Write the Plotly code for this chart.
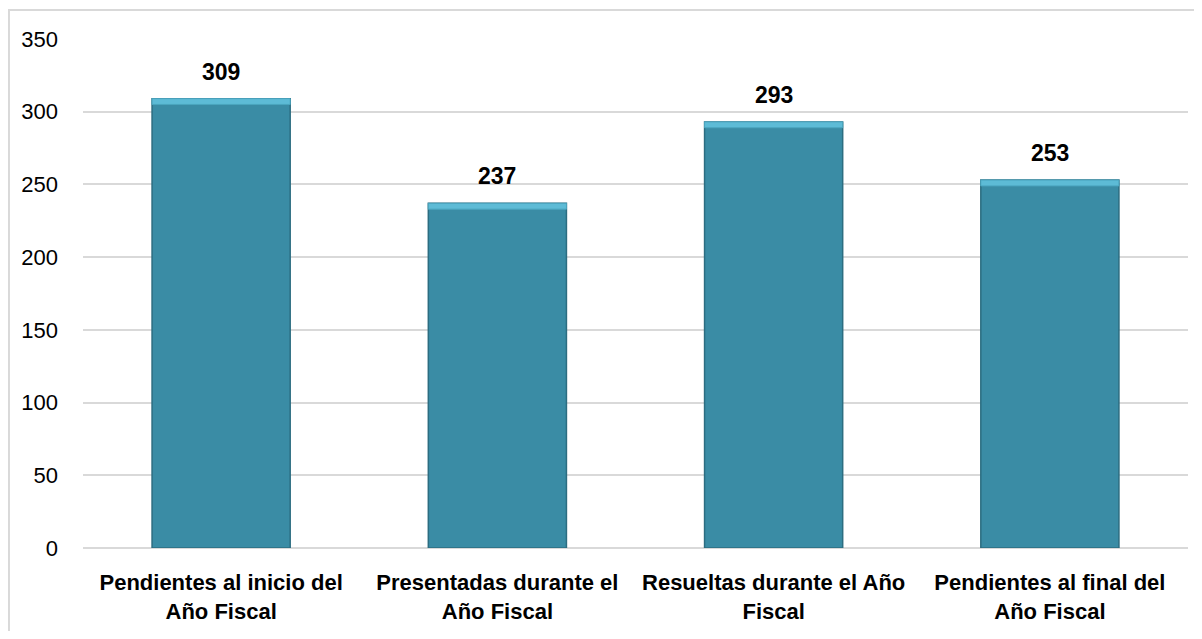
import plotly.graph_objects as go

categories = [
    "Pendientes al inicio del<br>Año Fiscal",
    "Presentadas durante el<br>Año Fiscal",
    "Resueltas durante el Año<br>Fiscal",
    "Pendientes al final del<br>Año Fiscal",
]
values = [309, 237, 293, 253]
y_ticks = [0, 50, 100, 150, 200, 250, 300, 350]

FONT = "Liberation Sans, Arial, sans-serif"
bevel = 4

fig = go.Figure()
fig.add_trace(go.Bar(
    x=categories, y=values, width=0.5,
    marker=dict(color="#3a8ca5", line=dict(color="#2c6d81", width=1.5)),
    hoverinfo="skip",
))
fig.add_trace(go.Bar(
    x=categories, y=[bevel] * len(values), base=[v - bevel for v in values], width=0.5,
    marker=dict(color="#5dbbd6", line=dict(color="#4ba5bf", width=1)),
    hoverinfo="skip",
))

for c, v in zip(categories, values):
    fig.add_annotation(x=c, y=v, text=f"<b>{v}</b>", showarrow=False,
                       yanchor="bottom", yshift=12,
                       font=dict(family=FONT, size=23, color="#000000"))

fig.add_shape(type="rect", xref="paper", yref="paper",
              x0=-0.067, x1=1.03, y0=-0.3, y1=1.057,
              line=dict(color="#d9d9d9", width=2), fillcolor="rgba(0,0,0,0)", layer="below")

fig.update_layout(
    width=1186, height=623,
    barmode="overlay",
    showlegend=False,
    paper_bgcolor="white", plot_bgcolor="white",
    margin=dict(l=75, r=6, t=31, b=83),
    font=dict(family=FONT, size=22, color="#000000"),
    xaxis=dict(
        showgrid=False, showline=False, ticks="", zeroline=False,
        tickfont=dict(family=FONT, size=22, color="#000000"),
        ticklabelstandoff=19,
        tickvals=categories,
        ticktext=[f"<b>{c}</b>" for c in categories],
    ),
    yaxis=dict(
        range=[0, 350], tickvals=y_ticks,
        showgrid=True, gridcolor="#d9d9d9", gridwidth=2,
        zeroline=True, zerolinecolor="#d9d9d9", zerolinewidth=2,
        showline=False, ticks="",
        tickfont=dict(family=FONT, size=22, color="#000000"),
        ticklabelstandoff=24,
    ),
)

fig.write_html("out.html")
